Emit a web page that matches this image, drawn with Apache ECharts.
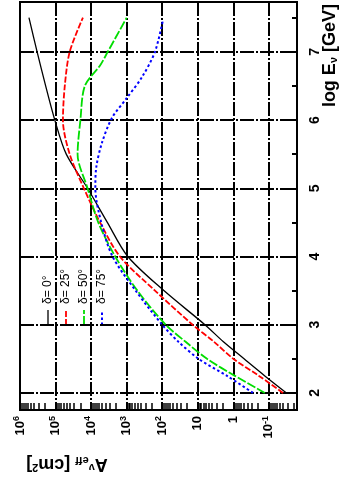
<!DOCTYPE html>
<html><head><meta charset="utf-8">
<script src="https://cdn.jsdelivr.net/npm/echarts@6/dist/echarts.min.js"></script>
<style>html,body{margin:0;padding:0;background:#fff}#c{width:347px;height:485px}</style>
</head><body><div id="c"></div>
<script>
// log10(E/GeV) and effective area A (cm^2) for each declination
const logE_0  = [2.0, 2.25, 2.5, 2.75, 3.0, 3.5, 4.0, 4.5, 5.0, 5.5, 6.0, 6.5, 7.0, 7.5];
const aeff_0  = [0.032, 0.13, 0.5, 1.9, 6.3, 90, 930, 3500, 12600, 50000, 105000, 190000, 330000, 560000];
const logE_25 = [2.0, 2.25, 2.5, 2.75, 3.0, 3.5, 4.0, 4.5, 5.0, 5.5, 6.0, 6.5, 7.0, 7.5];
const aeff_25 = [0.04, 0.19, 1.0, 3.5, 14, 160, 1550, 5600, 16000, 40000, 62000, 55000, 40000, 17000];
const logE_50 = [2.0, 2.25, 2.5, 2.75, 3.0, 3.5, 4.0, 4.5, 5.0, 5.5, 6.0, 6.5, 6.8, 7.0, 7.5];
const aeff_50 = [0.13, 0.9, 5.5, 22, 80, 500, 2100, 6300, 12600, 24000, 20000, 15000, 5600, 3400, 1000];
const logE_75 = [2.0, 2.25, 2.5, 2.75, 3.0, 3.5, 4.0, 4.5, 5.0, 5.3, 5.66, 6.03, 6.32, 6.63, 7.0, 7.47];
const aeff_75 = [0.28, 1.5, 9.5, 35, 100, 560, 2500, 5200, 7600, 7200, 5000, 2600, 1000, 370, 160, 95];

const seriesNames = ['δ= 0°', 'δ= 25°', 'δ= 50°', 'δ= 75°'];
const aTicks = [0.1, 1, 10, 100, 1000, 10000, 100000, 1000000];
const eTicks = [2, 3, 4, 5, 6, 7];
const eMinorTicks = [2.5, 3.5, 4.5, 5.5, 6.5, 7.5];
const A_MIN = 0.0162, A_MAX = 1e6, E_MIN = 1.75, E_MAX = 7.73;

const aMinorTicks = [];
for (let k = -2; k <= 5; k++) for (let m = 2; m <= 9; m++) {
  const v = m * Math.pow(10, k);
  if (v > A_MIN && v < A_MAX) aMinorTicks.push(v);
}

const colors = ['#000000', '#ff0000', '#00dd00', '#0000ff'];
const dashes = ['solid', [6, 2], [9, 2], [2.5, 2.5]];
const widths = [1.3, 1.8, 1.8, 2];
const sets = [[logE_0, aeff_0], [logE_25, aeff_25], [logE_50, aeff_50], [logE_75, aeff_75]];

const FONT = "'Liberation Sans', Arial, sans-serif";

function aLabel(v) {
  const k = Math.round(Math.log10(v));
  if (k === 0) return '1';
  if (k === 1) return '10';
  return '10{sup|' + (k < 0 ? '-' + (-k) : k) + '}';
}

const chart = echarts.init(document.getElementById('c'));
const gridLine = {show: true, lineStyle: {color: '#000', width: 2, type: [14, 2, 2, 2]}};

const legendEls = [];
const lx = [48, 66, 84, 102];
for (let i = 0; i < 4; i++) {
  legendEls.push({
    type: 'line', shape: {x1: lx[i], y1: 325, x2: lx[i], y2: 310},
    style: {stroke: colors[i], lineWidth: widths[i], lineDash: dashes[i] === 'solid' ? null : dashes[i]}
  });
  legendEls.push({
    type: 'text', x: lx[i], y: 304, rotation: Math.PI / 2,
    style: {text: seriesNames[i], font: '12px ' + FONT, fill: '#000', textAlign: 'left', textVerticalAlign: 'middle'}
  });
}

chart.setOption({
  animation: false,
  backgroundColor: '#fff',
  grid: {left: 20, right: 50, top: 2, bottom: 75, show: true, borderColor: '#000', borderWidth: 2},
  xAxis: [{
    type: 'log', min: A_MIN, max: A_MAX, inverse: true, position: 'bottom',
    axisLine: {show: false},
    axisTick: {show: true, inside: true, length: 8, customValues: aTicks, lineStyle: {color: '#000', width: 2}},
    axisLabel: {
      show: true, customValues: aTicks, rotate: 90, margin: 6, formatter: aLabel,
      color: '#000', fontSize: 13, fontWeight: 'bold', fontFamily: FONT, lineHeight: 16,
      rich: {sup: {fontSize: 9, fontWeight: 'bold', fontFamily: FONT, verticalAlign: 'top', lineHeight: 10, color: '#000'}}
    },
    splitLine: gridLine, minorTick: {show: false}
  }, {
    type: 'log', min: A_MIN, max: A_MAX, inverse: true, position: 'bottom',
    axisLine: {show: false},
    axisTick: {show: true, inside: true, length: 7, customValues: aMinorTicks, lineStyle: {color: '#000', width: 1.5}},
    axisLabel: {show: false}, splitLine: {show: false}
  }],
  yAxis: [{
    type: 'value', min: E_MIN, max: E_MAX, position: 'right',
    axisLine: {show: false},
    axisTick: {show: true, inside: true, length: 10, customValues: eTicks, lineStyle: {color: '#000', width: 2}},
    axisLabel: {show: true, customValues: eTicks, rotate: 90, margin: 11, color: '#000', fontSize: 14, fontWeight: 'bold', fontFamily: FONT},
    splitLine: gridLine
  }, {
    type: 'value', min: E_MIN, max: E_MAX, position: 'right',
    axisLine: {show: false},
    axisTick: {show: true, inside: true, length: 5, customValues: eMinorTicks, lineStyle: {color: '#000', width: 2}},
    axisLabel: {show: false}, splitLine: {show: false}
  }],
  series: sets.map((s, i) => ({
    name: seriesNames[i], type: 'line', xAxisIndex: 0, yAxisIndex: 0,
    data: s[0].map((e, j) => [s[1][j], e]),
    showSymbol: false, smooth: 0.3,
    lineStyle: {color: colors[i], width: widths[i], type: dashes[i]}
  })),
  graphic: [
    {type: 'text', x: 330, y: 4, rotation: Math.PI / 2,
     style: {text: 'log E{sub|ν} [GeV]', font: 'bold 18px ' + FONT, fill: '#000', textAlign: 'right', textVerticalAlign: 'middle',
       rich: {sub: {fontSize: 11, fontWeight: 'bold', fontFamily: FONT, verticalAlign: 'bottom', lineHeight: 13}}}},
    {type: 'text', x: 67, y: 464, rotation: Math.PI,
     style: {text: 'A{sup|ν}{sub|eff} [cm{sup|2}]', font: 'bold 18px ' + FONT, fill: '#000', textAlign: 'center', textVerticalAlign: 'middle',
       rich: {sup: {fontSize: 11, fontWeight: 'bold', fontFamily: FONT, verticalAlign: 'top', lineHeight: 12},
              sub: {fontSize: 11, fontWeight: 'bold', fontFamily: FONT, verticalAlign: 'bottom', lineHeight: 12}}}}
  ].concat(legendEls)
});
</script></body></html>
